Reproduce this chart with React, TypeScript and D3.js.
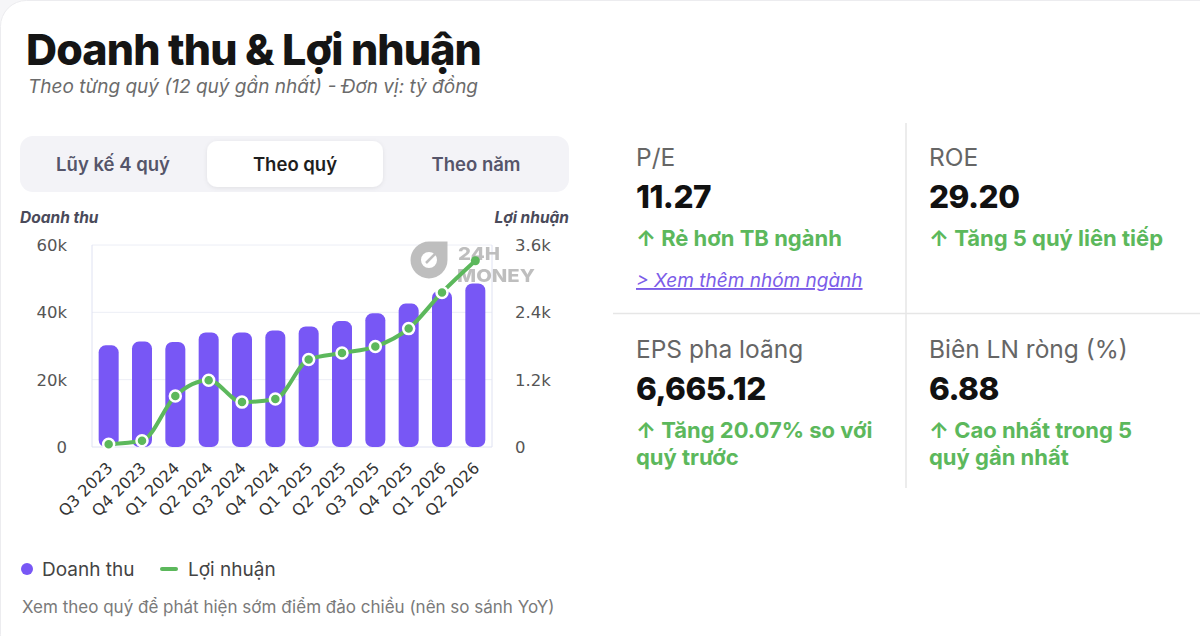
import React from "react";
import * as d3 from "d3";

const quarters = ["Q3 2023", "Q4 2023", "Q1 2024", "Q2 2024", "Q3 2024", "Q4 2024", "Q1 2025", "Q2 2025", "Q3 2025", "Q4 2025", "Q1 2026", "Q2 2026"];
const revenue = [30200, 31300, 31200, 34000, 34000, 34600, 35800, 37400, 39700, 42600, 46400, 48600];
const profit = [50, 110, 910, 1190, 800, 855, 1560, 1675, 1790, 2110, 2755, 3320];
const leftTicks = [0, 20000, 40000, 60000];
const rightTicks = [0, 1200, 2400, 3600];
const tabs = ["Lũy kế 4 quý", "Theo quý", "Theo năm"];

const metrics = [
  { label: "P/E", value: "11.27", note: ["↑ Rẻ hơn TB ngành"], link: "> Xem thêm nhóm ngành" },
  { label: "ROE", value: "29.20", note: ["↑ Tăng 5 quý liên tiếp"] },
  { label: "EPS pha loãng", value: "6,665.12", note: ["↑ Tăng 20.07% so với", "quý trước"] },
  { label: "Biên LN ròng (%)", value: "6.88", note: ["↑ Cao nhất trong 5", "quý gần nhất"] },
];

const PURPLE = "#7857f5";
const GREEN = "#5cb85c";
const FONT = "Inter, 'Noto Sans', sans-serif";
const AXIS_FONT = "'DejaVu Sans', Verdana, sans-serif";

export default function App() {
  const left = 92, right = 492, top = 245, bottom = 447;
  const x = d3.scaleBand<string>().domain(quarters).range([left, right]).paddingInner(0.4).paddingOuter(0.2);
  const yL = d3.scaleLinear().domain([0, 60000]).range([bottom, top]);
  const yR = d3.scaleLinear().domain([0, 3600]).range([bottom, top]);
  const cx = (q: string) => (x(q) as number) + x.bandwidth() / 2;
  const line = d3.line<number>().x((_, i) => cx(quarters[i])).y((d) => yR(d)).curve(d3.curveMonotoneX);
  const fmtK = (v: number) => (v === 0 ? "0" : `${v / 1000}k`);

  const tabW = 176;
  const tabCenters = [113, 295, 476];
  const colX = [636, 929];
  const rowY = [0, 192];

  // watermark logo geometry
  const lx = 429, ly = 260, ro = 18.5, ri = 8;
  const logoPath =
    `M ${lx} ${ly - ro} A ${ro} ${ro} 0 1 0 ${lx + ro} ${ly} L ${lx + ro} ${ly - ro} Z ` +
    `M ${lx + ri} ${ly} A ${ri} ${ri} 0 1 1 ${lx - ri} ${ly} A ${ri} ${ri} 0 1 1 ${lx + ri} ${ly} Z`;

  return (
    <div style={{ position: "absolute", left: 0, top: 0, width: 1200, height: 636 }}>
      <svg width={1200} height={636} style={{ display: "block", fontFamily: FONT }}>
        <defs>
          <filter id="sh" x="-10%" y="-30%" width="120%" height="160%">
            <feDropShadow dx="0" dy="1" stdDeviation="2" floodColor="#000" floodOpacity="0.08" />
          </filter>
        </defs>
        <rect x={0} y={0} width={1200} height={636} fill="#f6f6f8" />
        <rect x={0.5} y={0.5} width={1230} height={660} rx={26} fill="#ffffff" stroke="#ececef" />

        <text x={26} y={65} fontSize={43} fontWeight={800} fill="#151515" letterSpacing={-0.9}>Doanh thu &amp; Lợi nhuận</text>
        <text x={28} y={93} fontSize={19} fontStyle="italic" fill="#6b6b6b">Theo từng quý (12 quý gần nhất) - Đơn vị: tỷ đồng</text>

        <rect x={20} y={136} width={549} height={56} rx={13} fill="#f3f3f7" />
        <rect x={207} y={141} width={tabW} height={46} rx={10} fill="#ffffff" filter="url(#sh)" />
        {tabs.map((t, i) => (
          <text key={t} x={tabCenters[i]} y={170.5} textAnchor="middle" fontSize={18.5} fontWeight={600} fill={i === 1 ? "#1e1e1e" : "#55556a"}>{t}</text>
        ))}

        <text x={20} y={223} fontSize={15.5} fontWeight={700} fontStyle="italic" fill="#4a4a5a">Doanh thu</text>
        <text x={569} y={223} textAnchor="end" fontSize={15.5} fontWeight={700} fontStyle="italic" fill="#4a4a5a">Lợi nhuận</text>

        {leftTicks.slice(1).map((t) => (
          <line key={t} x1={left} x2={right} y1={yL(t)} y2={yL(t)} stroke="#eceef6" strokeWidth={1} />
        ))}
        <line x1={left} x2={left} y1={top} y2={bottom} stroke="#dfe2f2" />
        <line x1={right} x2={right} y1={top} y2={bottom} stroke="#dfe2f2" />
        <line x1={left} x2={right} y1={bottom} y2={bottom} stroke="#dfe2f2" />

        {leftTicks.map((t) => (
          <text key={t} x={67} y={yL(t) + 6} textAnchor="end" fontSize={16.5} fontFamily={AXIS_FONT} fill="#555">{fmtK(t)}</text>
        ))}
        {rightTicks.map((t) => (
          <text key={t} x={515} y={yR(t) + 6} textAnchor="start" fontSize={16.5} fontFamily={AXIS_FONT} fill="#555">{fmtK(t)}</text>
        ))}

        <g opacity={0.9}>
          <path d={logoPath} fill="#b8b8b8" fillRule="evenodd" />
          <line x1={lx - 3} y1={ly + 3} x2={lx + 8} y2={ly - 8} stroke="#b8b8b8" strokeWidth={2.5} />
          <text x={458} y={260} fontSize={18} fontWeight={800} fill="#b8b8b8" textLength={42} lengthAdjust="spacingAndGlyphs">24H</text>
          <text x={457} y={282} fontSize={18} fontWeight={800} fill="#b8b8b8" textLength={78} lengthAdjust="spacingAndGlyphs">MONEY</text>
        </g>

        {quarters.map((q, i) => (
          <rect key={q} x={x(q)} y={yL(revenue[i])} width={x.bandwidth()} height={bottom - yL(revenue[i])} rx={7} fill={PURPLE} />
        ))}

        <path d={line(profit) || ""} fill="none" stroke={GREEN} strokeWidth={4} strokeLinejoin="round" strokeLinecap="round" />
        {profit.map((p, i) =>
          i === profit.length - 1 ? (
            <circle key={i} cx={cx(quarters[i])} cy={yR(p)} r={4.5} fill={GREEN} />
          ) : (
            <circle key={i} cx={cx(quarters[i])} cy={yR(p)} r={5.5} fill={GREEN} stroke="#ffffff" strokeWidth={2.5} />
          )
        )}

        {quarters.map((q) => (
          <text key={q} transform={`translate(${cx(q) + 5},${469}) rotate(-45)`} textAnchor="end" fontSize={16} fontFamily={AXIS_FONT} fill="#333">{q}</text>
        ))}

        <circle cx={27} cy={569} r={6} fill={PURPLE} />
        <text x={42} y={575.5} fontSize={19} fill="#444">Doanh thu</text>
        <line x1={162} x2={176} y1={569} y2={569} stroke={GREEN} strokeWidth={4} strokeLinecap="round" />
        <text x={188} y={575.5} fontSize={19} fill="#444">Lợi nhuận</text>
        <text x={22} y={613} fontSize={17} fill="#7a7a7a">Xem theo quý để phát hiện sớm điểm đảo chiều (nên so sánh YoY)</text>

        <line x1={906} x2={906} y1={123} y2={488} stroke="#e6e6e6" strokeWidth={1.5} />
        <line x1={613} x2={1200} y1={313.5} y2={313.5} stroke="#e6e6e6" strokeWidth={1.5} />

        {metrics.map((m, i) => {
          const bx = colX[i % 2];
          const by = rowY[Math.floor(i / 2)];
          return (
            <g key={m.label}>
              <text x={bx} y={166 + by} fontSize={24.5} fill="#666">{m.label}</text>
              <text x={bx} y={208 + by} fontSize={31.5} fontWeight={800} fill="#111" letterSpacing={-0.5}>{m.value}</text>
              {m.note.map((n, j) => (
                <text key={j} x={bx} y={245.5 + by + j * 27} fontSize={22} fontWeight={700} fill={GREEN}>{n}</text>
              ))}
              {m.link && (
                <text x={bx} y={287 + by} fontSize={19} fontStyle="italic" fill="#7b5ce8" textDecoration="underline">{m.link}</text>
              )}
            </g>
          );
        })}
      </svg>
    </div>
  );
}
